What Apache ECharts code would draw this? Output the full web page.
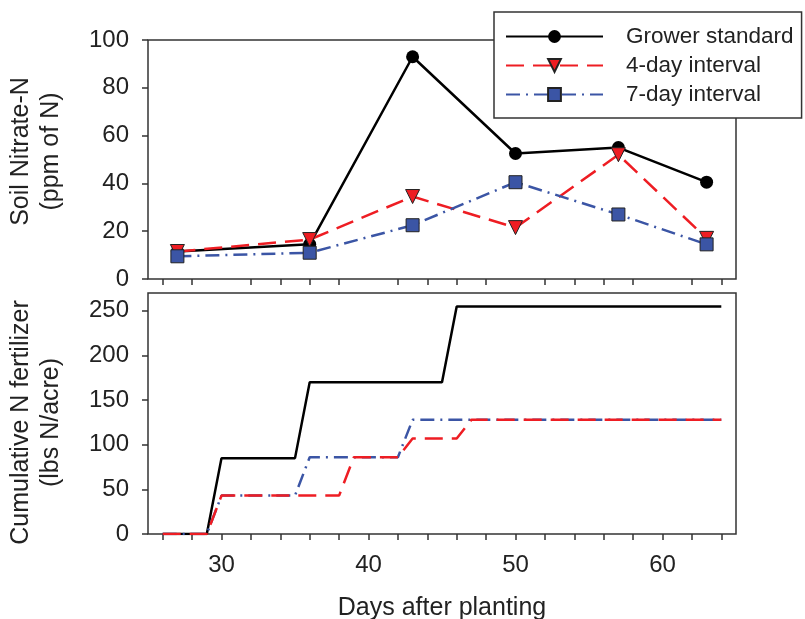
<!DOCTYPE html>
<html>
<head>
<meta charset="utf-8">
<script src="https://cdn.jsdelivr.net/npm/echarts@6/dist/echarts.min.js"></script>
<style>
  html, body { margin: 0; padding: 0; background: #fff; }
  #chart { width: 805px; height: 619px; }
</style>
</head>
<body>
<div id="chart"></div>
<script>
// top panel: soil nitrate samples
var sampleDays = [27, 36, 43, 50, 57, 63];
var growerNitrate = [11.5, 14.5, 93, 52.5, 55, 40.5];
var fourDayNitrate = [11.5, 16.5, 34.5, 21.5, 52, 17];
var sevenDayNitrate = [9.5, 11, 22.5, 40.5, 27, 14.5];

// bottom panel: cumulative N applied (lbs N/acre)
var growerCumDays = [26, 29, 30, 35, 36, 45, 46, 64];
var growerCum = [0, 0, 85, 85, 170, 170, 255, 255];
var fourDayCumDays = [26, 29, 30, 38, 39, 42, 43, 46, 47, 64];
var fourDayCum = [0, 0, 43, 43, 86, 86, 107, 107, 128, 128];
var sevenDayCumDays = [26, 29, 30, 35, 36, 42, 43, 64];
var sevenDayCum = [0, 0, 43, 43, 86, 86, 128, 128];

// ticks
var dayLabels = [30, 40, 50, 60];
var bottomDayTicks = [26, 28, 30, 32, 34, 36, 38, 40, 42, 44, 46, 48, 50, 52, 54, 56, 58, 60, 62, 64];
var topDayTicks = [26, 28, 32, 34, 36, 38, 42, 44, 46, 48, 52, 54, 56, 58, 62, 64];
var cumTicks = [0, 50, 100, 150, 200, 250];

var names = ['Grower standard', '4-day interval', '7-day interval'];
var colors = ['#000000', '#ee1d23', '#3b55a5'];
var font = 'Liberation Sans, Arial, sans-serif';

function pairs(xs, ys) {
    return xs.map(function(x, i) { return [x, ys[i]]; });
}

var tickStyle = { show: true, inside: false, length: 6, lineStyle: { color: '#333', width: 1.5 } };
var labelStyle = { fontSize: 24, color: '#222', fontFamily: font };
var nameStyle = { fontSize: 25, color: '#222', fontFamily: font, lineHeight: 30 };

var myChart = echarts.init(document.getElementById('chart'));
var option = {
    animation: false,
    grid: [
        { left: 148, right: 69, top: 40, height: 239, outerBoundsMode: 'none',
          show: true, borderColor: '#333', borderWidth: 1.5 },
        { left: 148, right: 69, top: 293, height: 241, outerBoundsMode: 'none',
          show: true, borderColor: '#333', borderWidth: 1.5 }
    ],
    legend: {
        data: names,
        orient: 'vertical',
        left: 494,
        top: 12,
        padding: [13, 8, 12, 11],
        itemWidth: 97,
        itemHeight: 16,
        itemGap: 6,
        backgroundColor: '#fff',
        borderColor: '#333',
        borderWidth: 1.5,
        textStyle: { fontSize: 22.5, color: '#222', fontFamily: font, padding: [0, 0, 0, 18] }
    },
    xAxis: [
        {
            type: 'value', gridIndex: 0, min: 25, max: 65,
            axisLine: { show: false },
            axisTick: Object.assign({ customValues: topDayTicks }, tickStyle),
            axisLabel: { show: false },
            splitLine: { show: false }
        },
        {
            type: 'value', gridIndex: 1, min: 25, max: 65,
            axisLine: { show: false },
            axisTick: Object.assign({ customValues: bottomDayTicks }, tickStyle),
            axisLabel: Object.assign({ customValues: dayLabels, margin: 19 }, labelStyle),
            splitLine: { show: false },
            name: 'Days after planting',
            nameLocation: 'middle',
            nameGap: 59,
            nameTextStyle: nameStyle
        }
    ],
    yAxis: [
        {
            type: 'value', gridIndex: 0, min: 0, max: 100, interval: 20,
            axisLine: { show: false },
            axisTick: tickStyle,
            axisLabel: Object.assign({ margin: 19 }, labelStyle),
            splitLine: { show: false },
            name: 'Soil Nitrate-N\n(ppm of N)',
            nameLocation: 'middle',
            nameRotate: 90,
            nameGap: 82,
            nameTextStyle: Object.assign({ padding: [0, 0, 0, 16] }, nameStyle)
        },
        {
            type: 'value', gridIndex: 1, min: 0, max: 270,
            axisLine: { show: false },
            axisTick: Object.assign({ customValues: cumTicks }, tickStyle),
            axisLabel: Object.assign({ customValues: cumTicks, margin: 19 }, labelStyle),
            splitLine: { show: false },
            name: 'Cumulative N fertilizer\n(lbs N/acre)',
            nameLocation: 'middle',
            nameRotate: 90,
            nameGap: 82,
            nameTextStyle: Object.assign({ padding: [0, 18, 0, 0] }, nameStyle)
        }
    ],
    series: [
        {
            name: names[0], type: 'line', xAxisIndex: 0, yAxisIndex: 0,
            data: pairs(sampleDays, growerNitrate),
            symbol: 'circle', symbolSize: 13,
            lineStyle: { color: colors[0], width: 2.5 },
            itemStyle: { color: colors[0] }
        },
        {
            name: names[1], type: 'line', xAxisIndex: 0, yAxisIndex: 0,
            data: pairs(sampleDays, fourDayNitrate),
            symbol: 'triangle', symbolRotate: 180, symbolSize: 14,
            lineStyle: { color: colors[1], width: 2.5, type: [18, 9] },
            itemStyle: { color: colors[1], borderColor: '#222', borderWidth: 1 }
        },
        {
            name: names[2], type: 'line', xAxisIndex: 0, yAxisIndex: 0,
            data: pairs(sampleDays, sevenDayNitrate),
            symbol: 'rect', symbolSize: 13,
            lineStyle: { color: colors[2], width: 2.5, type: [14, 6, 2, 6] },
            itemStyle: { color: colors[2], borderColor: '#222', borderWidth: 1 }
        },
        {
            name: names[0], type: 'line', xAxisIndex: 1, yAxisIndex: 1,
            data: pairs(growerCumDays, growerCum),
            showSymbol: false,
            lineStyle: { color: colors[0], width: 2.5 },
            itemStyle: { color: colors[0] }
        },
        {
            name: names[2], type: 'line', xAxisIndex: 1, yAxisIndex: 1,
            data: pairs(sevenDayCumDays, sevenDayCum),
            showSymbol: false,
            lineStyle: { color: colors[2], width: 2.5, type: [14, 6, 2, 6] },
            itemStyle: { color: colors[2] }
        },
        {
            name: names[1], type: 'line', xAxisIndex: 1, yAxisIndex: 1,
            data: pairs(fourDayCumDays, fourDayCum),
            showSymbol: false,
            lineStyle: { color: colors[1], width: 2.5, type: [18, 9] },
            itemStyle: { color: colors[1] }
        }
    ]
};
myChart.setOption(option);
</script>
</body>
</html>
